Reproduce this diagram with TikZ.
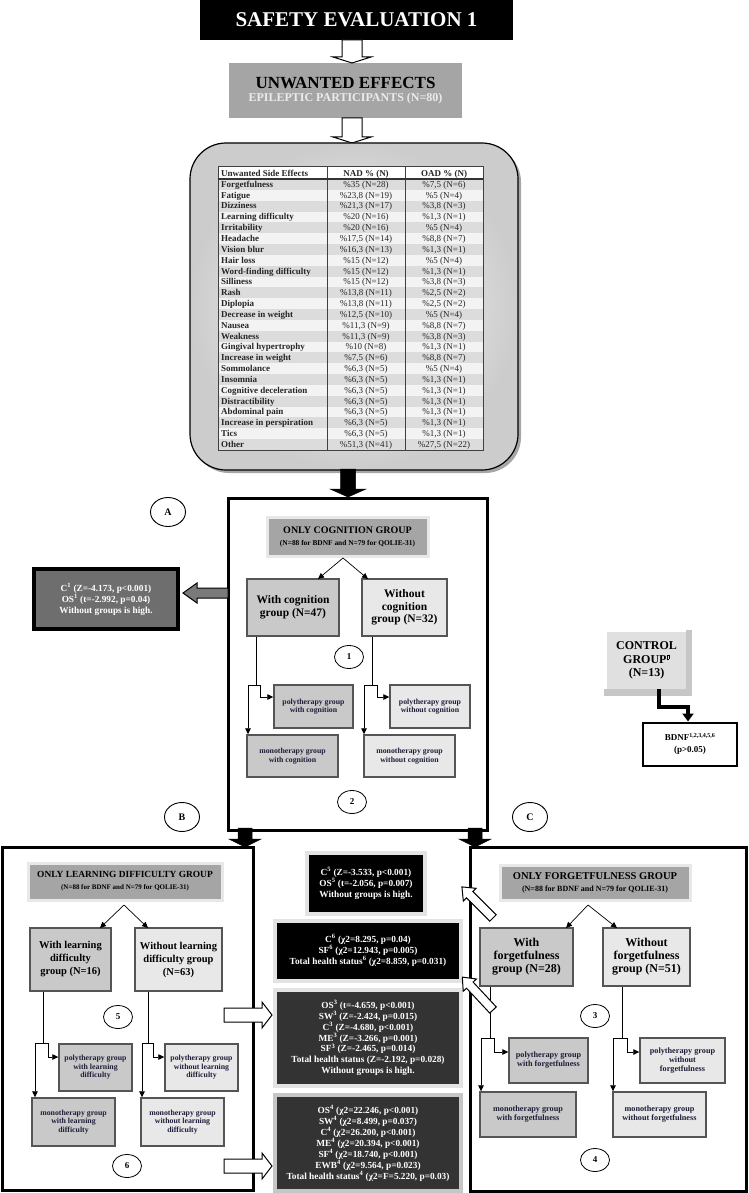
\documentclass[tikz,border=0pt]{standalone}
\usepackage{fontspec}
\setmainfont{Liberation Serif}
\usetikzlibrary{shapes.geometric,arrows.meta,calc,shadows}
\definecolor{hdrgray}{HTML}{A5A5A5}
\definecolor{withgray}{HTML}{C9C9C9}
\definecolor{wogray}{HTML}{E8E8E8}
\definecolor{boxedge}{HTML}{555555}
\definecolor{navytext}{HTML}{1E1E3A}
\definecolor{darkbox}{HTML}{333333}
\definecolor{cgray}{HTML}{6E6E6E}
\definecolor{arrowgray}{HTML}{7A7A7A}
\definecolor{ctrlgray}{HTML}{E0E0E0}
\definecolor{rowdark}{HTML}{DCDCDC}
\definecolor{rowlight}{HTML}{F3F3F3}
\newcommand{\fs}[2]{\fontsize{#1}{#2}\selectfont}
% style, start, angle, length, shaft half width, head half width, head length
\newcommand{\blockarrow}[7]{\draw[#1, shift={#2}, rotate=#3] (0,-#5) -- ({#4-#7},-#5) -- ({#4-#7},-#6) -- (#4,0) -- ({#4-#7},#6) -- ({#4-#7},#5) -- (0,#5) -- cycle;}
\newcommand{\trow}[4]{%
  \pgfmathsetmacro{\rowy}{179+(#1-1)*10.84}%
  \ifodd#1\relax\fill[rowdark] (218,\rowy) rectangle (483,\rowy+10.84);\else\fill[rowlight] (218,\rowy) rectangle (483,\rowy+10.84);\fi
  \node[tfirst] (ta#1) at (221,\rowy+8.3) {#2};
  \node[tcell] (tb#1) at (366,\rowy+8.3) {#3};
  \node[tcell] (tc#1) at (444,\rowy+8.3) {#4};
}
\newcommand{\branch}[9]{%
  \coordinate (#1b) at (#2,#3);
  \coordinate (#1l) at (#4,#3);
  \coordinate (#1r) at (#5,#3);
  \coordinate (#1p) at (#5,#6);
  \draw[plainln] (#1b |- #7.south) -- (#1b);
  \draw[plainln] (#1l) -- (#1r);
  \draw[conn] (#1r) -- (#1p) -- (#1p -| #8.west);
  \draw[conn] (#1l) -- (#1l |- #9.north);
}
\begin{document}
\begin{tikzpicture}[x=1pt,y=-1pt,
 bigbox/.style={draw=black, line width=3pt, inner sep=0pt},
 hdrbox/.style={draw=gray!18, line width=3pt, fill=hdrgray, align=center, inner sep=0pt},
 grpwith/.style={draw=boxedge, line width=1.6pt, fill=withgray, align=center, inner sep=1pt},
 grpwo/.style={grpwith, fill=wogray},
 subwith/.style={draw=boxedge, line width=1.4pt, fill=withgray, align=center, inner sep=1pt, text=navytext, font=\fs{7.8}{8.4}\bfseries},
 subwo/.style={subwith, fill=wogray},
 lbl/.style={ellipse, draw=black, line width=0.9pt, fill=white, minimum width=35pt, minimum height=29pt, inner sep=0pt, font=\fs{10}{12}\bfseries},
 numc/.style={ellipse, draw=black, line width=0.8pt, fill=white, minimum width=29pt, minimum height=23pt, inner sep=0pt, font=\fs{9}{10}\bfseries},
 conn/.style={line width=0.7pt, -{Triangle[width=5.5pt,length=6pt]}},
 plainln/.style={line width=0.7pt},
 resbox/.style={draw=gray!22, line width=4pt, fill=black, text=white, align=center, inner sep=0pt, font=\fs{9.3}{11}\bfseries},
 tfirst/.style={anchor=base west, inner sep=0pt, font=\fs{9}{10}\bfseries, text=black!85},
 tcell/.style={anchor=base, inner sep=0pt, font=\fs{9}{10}, text=black!85},
 hollow/.style={draw=black, line width=1pt, fill=white},
 solidarr/.style={draw=black, fill=black, line width=0.5pt}]
\useasboundingbox (0,0) rectangle (748,1193);

% ---------- top ----------
\node[fill=black, text=white, minimum width=313pt, minimum height=40pt, inner sep=0pt, font=\fs{21}{24}\bfseries] (title) at (356.5,20) {SAFETY EVALUATION 1};
\node[fill=hdrgray, minimum width=233pt, minimum height=55pt, inner sep=0pt, align=center] (ue) at (345.5,90.5)
  {{\fs{17}{21}\bfseries UNWANTED EFFECTS}\\[1pt]{\fs{12}{14}\bfseries\color{white!92!black}EPILEPTIC PARTICIPANTS (N=80)}};
\coordinate (ar1) at (352,40);
\coordinate (ar2) at (352,118);
\blockarrow{hollow}{(ar1)}{-90}{23}{10}{19}{6}
\blockarrow{hollow}{(ar2)}{-90}{25}{10}{19}{6}

% ---------- table container ----------
\node[draw=black, line width=1.2pt, rounded corners=36pt, shade, inner color=gray!3, outer color=gray!40,
      minimum width=328pt, minimum height=327pt, inner sep=0pt,
      drop shadow={shadow xshift=3pt, shadow yshift=-3pt, fill=gray!70, opacity=1}] (tblbox) at (354,306.5) {};
\fill[white] (218,167) rectangle (483,179);
\node[tfirst] (th1) at (221,176.3) {Unwanted Side Effects};
\node[tcell, font=\fs{9}{10}\bfseries] (th2) at (366,176.3) {NAD \% (N)};
\node[tcell, font=\fs{9}{10}\bfseries] (th3) at (444,176.3) {OAD \% (N)};
\trow{1}{Forgetfulness}{\%35 (N=28)}{\%7,5 (N=6)}
\trow{2}{Fatigue}{\%23,8 (N=19)}{\%5 (N=4)}
\trow{3}{Dizziness}{\%21,3 (N=17)}{\%3,8 (N=3)}
\trow{4}{Learning difficulty}{\%20 (N=16)}{\%1,3 (N=1)}
\trow{5}{Irritability}{\%20 (N=16)}{\%5 (N=4)}
\trow{6}{Headache}{\%17,5 (N=14)}{\%8,8 (N=7)}
\trow{7}{Vision blur}{\%16,3 (N=13)}{\%1,3 (N=1)}
\trow{8}{Hair loss}{\%15 (N=12)}{\%5 (N=4)}
\trow{9}{Word-finding difficulty}{\%15 (N=12)}{\%1,3 (N=1)}
\trow{10}{Silliness}{\%15 (N=12)}{\%3,8 (N=3)}
\trow{11}{Rash}{\%13,8 (N=11)}{\%2,5 (N=2)}
\trow{12}{Diplopia}{\%13,8 (N=11)}{\%2,5 (N=2)}
\trow{13}{Decrease in weight}{\%12,5 (N=10)}{\%5 (N=4)}
\trow{14}{Nausea}{\%11,3 (N=9)}{\%8,8 (N=7)}
\trow{15}{Weakness}{\%11,3 (N=9)}{\%3,8 (N=3)}
\trow{16}{Gingival hypertrophy}{\%10 (N=8)}{\%1,3 (N=1)}
\trow{17}{Increase in weight}{\%7,5 (N=6)}{\%8,8 (N=7)}
\trow{18}{Sommolance}{\%6,3 (N=5)}{\%5 (N=4)}
\trow{19}{Insomnia}{\%6,3 (N=5)}{\%1,3 (N=1)}
\trow{20}{Cognitive deceleration}{\%6,3 (N=5)}{\%1,3 (N=1)}
\trow{21}{Distractibility}{\%6,3 (N=5)}{\%1,3 (N=1)}
\trow{22}{Abdominal pain}{\%6,3 (N=5)}{\%1,3 (N=1)}
\trow{23}{Increase in perspiration}{\%6,3 (N=5)}{\%1,3 (N=1)}
\trow{24}{Tics}{\%6,3 (N=5)}{\%1,3 (N=1)}
\trow{25}{Other}{\%51,3 (N=41)}{\%27,5 (N=22)}
\draw[line width=1pt, draw=black!75] (218,167) rectangle (483,450);
\draw[line width=1pt, draw=black!75] (327,167) -- (327,450) (405,167) -- (405,450);
\draw[line width=1.6pt, draw=black!80] (218,179) -- (483,179);

% ---------- cognition block ----------
\node[bigbox, minimum width=259pt, minimum height=332pt] (cogbox) at (357.5,664) {};
\coordinate (ar3) at (348,469);
\blockarrow{solidarr}{(ar3)}{-90}{28}{7.5}{18}{8}
\node[lbl] (A) at (168,512) {A};
\node[hdrbox, minimum width=161pt, minimum height=39pt] (hc) at (347.5,536.5)
  {{\fs{10}{11}\bfseries ONLY COGNITION GROUP}\\{\fs{7.4}{8}\bfseries (N=88 for BDNF and N=79 for QOLIE-31)}};
\node[grpwith, minimum width=92pt, minimum height=57pt, font=\fs{11.5}{12.5}\bfseries] (wc) at (293,607.5) {With cognition\\group (N=47)};
\node[grpwo, minimum width=85pt, minimum height=57pt, font=\fs{11.5}{12.5}\bfseries] (woc) at (404.5,607.5) {Without\\cognition\\group (N=32)};
\coordinate (hcs) at (343,558);
\coordinate (wcn) at (318,579);
\coordinate (wocn) at (368,579);
\draw[conn] (hcs) -- (wcn);
\draw[conn] (hcs) -- (wocn);
\node[numc] (n1) at (349,657) {1};
\node[subwith, minimum width=79pt, minimum height=43pt] (pwc) at (313.5,706.5) {polytherapy group\\with cognition};
\node[subwith, minimum width=91pt, minimum height=42pt] (mwc) at (292.5,756) {monotherapy group\\with cognition};
\node[subwo, minimum width=80pt, minimum height=43pt] (pwoc) at (430,706.5) {polytherapy group\\without cognition};
\node[subwo, minimum width=91pt, minimum height=42pt] (mwoc) at (409.5,756) {monotherapy group\\without cognition};
\branch{ca}{256}{685}{248}{260}{697}{wc}{pwc}{mwc}
\branch{cb}{372}{685}{364}{377}{697}{woc}{pwoc}{mwoc}
\node[numc] (n2) at (352,802) {2};

% C1 result
\node[draw=black, line width=4pt, fill=cgray, text=white, align=center, inner sep=0pt, minimum width=144pt, minimum height=60pt, font=\fs{9.3}{11}\bfseries] (c1res) at (106,599)
  {C\textsuperscript{1} (Z=-4.173, p<0.001)\\OS\textsuperscript{1} (t=-2.992, p=0.04)\\Without groups is high.};
\coordinate (ar4) at (228,593);
\blockarrow{draw=black, fill=arrowgray, line width=1pt}{(ar4)}{180}{45}{5}{10}{14}

% control group
\fill[gray!45] (604,689) rectangle (692,696);
\fill[gray!45] (686,630) rectangle (692,696);
\node[fill=ctrlgray, minimum width=79pt, minimum height=57pt, inner sep=0pt, align=center, font=\fs{12}{13.5}\bfseries] (ctrl) at (646.5,660.5)
  {CONTROL\\GROUP\textsuperscript{\fboxsep=0pt\fboxrule=0.3pt\fbox{\rule{0pt}{4pt}\hspace{2.2pt}}}\\(N=13)};
\node[draw=black, line width=2pt, fill=white, minimum width=94pt, minimum height=43pt, inner sep=0pt, align=center, font=\fs{9}{12}\bfseries] (bdnf) at (690,744)
  {BDNF\textsuperscript{1,2,3,4,5,6}\\(p>0.05)};
\coordinate (ct1) at (659,707);
\coordinate (ct2) at (688,707);
\draw[line width=3.5pt, line join=miter, -{Triangle[width=11pt,length=8pt]}] (ct1 |- ctrl.south) -- (ct1) -- (ct2) -- (ct2 |- bdnf.north);

% ---------- B block ----------
\node[bigbox, minimum width=251pt, minimum height=343pt] (bbox) at (127.5,1018.5) {};
\node[lbl] (B) at (182,817) {B};
\coordinate (ar5) at (245,828);
\blockarrow{solidarr}{(ar5)}{-90}{19}{7}{16}{8}
\node[hdrbox, minimum width=194pt, minimum height=37pt] (hl) at (125,881.5)
  {{\fs{9.4}{10.5}\bfseries ONLY LEARNING DIFFICULTY GROUP}\\{\fs{7}{8}\bfseries (N=88 for BDNF and N=79 for QOLIE-31)}};
\node[grpwith, minimum width=81pt, minimum height=63pt, font=\fs{10.5}{13}\bfseries] (wl) at (70.5,959.5) {With learning\\difficulty\\group (N=16)};
\node[grpwo, minimum width=87pt, minimum height=63pt, font=\fs{10.5}{13}\bfseries] (wol) at (178.5,959.5) {Without learning\\difficulty group\\(N=63)};
\coordinate (lhs) at (124,905);
\coordinate (wln) at (100,928);
\coordinate (woln) at (148,928);
\draw[conn] (lhs) -- (wln);
\draw[conn] (lhs) -- (woln);
\node[numc] (n5) at (118,1017) {5};
\node[subwith, minimum width=73pt, minimum height=47pt] (pwl) at (95.5,1067.5) {polytherapy group\\with learning\\difficulty};
\node[subwith, minimum width=83pt, minimum height=48pt] (mwl) at (73.5,1122) {monotherapy group\\with learning\\difficulty};
\node[subwo, minimum width=73pt, minimum height=47pt] (pwol) at (201.5,1067.5) {polytherapy group\\without learning\\difficulty};
\node[subwo, minimum width=83pt, minimum height=48pt] (mwol) at (182.5,1122) {monotherapy group\\without learning\\difficulty};
\branch{la}{43}{1043}{35}{48}{1057}{wl}{pwl}{mwl}
\branch{lb}{148}{1043}{142}{153}{1057}{wol}{pwol}{mwol}
\node[numc] (n6) at (127,1166) {6};

% ---------- C block ----------
\node[bigbox, minimum width=276pt, minimum height=344pt] (cbox) at (608,1019) {};
\node[lbl] (C) at (530,817) {C};
\coordinate (ar6) at (475,828);
\blockarrow{solidarr}{(ar6)}{-90}{19}{7}{16}{8}
\node[hdrbox, minimum width=190pt, minimum height=35pt] (hf) at (595,882.5)
  {{\fs{10.5}{11}\bfseries ONLY FORGETFULNESS GROUP}\\{\fs{8}{8.5}\bfseries (N=88 for BDNF and N=79 for QOLIE-31)}};
\node[grpwith, minimum width=93pt, minimum height=58pt, font=\fs{12}{13}\bfseries] (wf) at (526.5,957) {With\\forgetfulness\\group (N=28)};
\node[grpwo, minimum width=87pt, minimum height=58pt, font=\fs{12}{13}\bfseries] (wof) at (646.5,957) {Without\\forgetfulness\\group (N=51)};
\coordinate (fhs) at (588,905);
\coordinate (wfn) at (566,928);
\coordinate (wofn) at (617,928);
\draw[conn] (fhs) -- (wfn);
\draw[conn] (fhs) -- (wofn);
\node[numc] (n3) at (595,1016) {3};
\node[subwith, minimum width=79pt, minimum height=45pt, font=\fs{8.2}{9}\bfseries] (pwf) at (548.5,1060.5) {polytherapy group\\with forgetfulness};
\node[subwith, minimum width=96pt, minimum height=45pt, font=\fs{8.2}{9}\bfseries] (mwf) at (528,1114.5) {monotherapy group\\with forgetfulness};
\node[subwo, minimum width=85pt, minimum height=45pt, font=\fs{8.2}{9}\bfseries] (pwof) at (682.5,1060.5) {polytherapy group\\without\\forgetfulness};
\node[subwo, minimum width=93pt, minimum height=45pt, font=\fs{8.2}{9}\bfseries] (mwof) at (659.5,1114.5) {monotherapy group\\without forgetfulness};
\branch{fa}{490}{1038}{481}{494}{1052}{wf}{pwf}{mwf}
\branch{fb}{622}{1038}{613}{627}{1052}{wof}{pwof}{mwof}
\node[numc] (n4) at (595,1160) {4};

% ---------- middle results ----------
\node[resbox, minimum width=118pt, minimum height=61pt] (m1) at (366,883.5)
  {C\textsuperscript{5} (Z=-3.533, p<0.001)\\OS\textsuperscript{5} (t=-2.056, p=0.007)\\Without groups is high.};
\node[resbox, minimum width=186pt, minimum height=60pt] (m2) at (368,950.5)
  {C\textsuperscript{6} (χ2=8.295, p=0.04)\\SF\textsuperscript{6} (χ2=12.943, p=0.005)\\Total health status\textsuperscript{6} (χ2=8.859, p=0.031)};
\node[resbox, fill=darkbox, minimum width=186pt, minimum height=96pt, font=\fs{9.3}{10.8}\bfseries] (m3) at (368,1038)
  {OS\textsuperscript{3} (t=-4.659, p<0.001)\\SW\textsuperscript{3} (Z=-2.424, p=0.015)\\C\textsuperscript{3} (Z=-4.680, p<0.001)\\ME\textsuperscript{3} (Z=-3.266, p=0.001)\\SF\textsuperscript{3} (Z=-2.465, p=0.014)\\Total health status (Z=-2.192, p=0.028)\\Without groups is high.};
\node[resbox, draw=gray!45, fill=darkbox, minimum width=186pt, minimum height=96pt, font=\fs{9.3}{11}\bfseries] (m4) at (368,1143)
  {OS\textsuperscript{4} (χ2=22.246, p<0.001)\\SW\textsuperscript{4} (χ2=8.499, p=0.037)\\C\textsuperscript{4} (χ2=26.200, p<0.001)\\ME\textsuperscript{4} (χ2=20.394, p<0.001)\\SF\textsuperscript{4} (χ2=18.740, p<0.001)\\EWB\textsuperscript{4} (χ2=9.564, p=0.023)\\Total health status\textsuperscript{4} (χ2=F=5.220, p=0.03)};

% hollow arrows to results
\coordinate (ar7) at (224,1015);
\coordinate (ar8) at (224,1166);
\blockarrow{hollow}{(ar7)}{0}{48}{7}{13}{10}
\blockarrow{hollow}{(ar8)}{0}{48}{7}{13}{10}
\coordinate (ar9) at (493,918);
\coordinate (ar10) at (493,1010);
\blockarrow{hollow}{(ar9)}{135}{44}{4.5}{9}{11}
\blockarrow{hollow}{(ar10)}{133}{45}{4.5}{9}{11}
\end{tikzpicture}
\end{document}
